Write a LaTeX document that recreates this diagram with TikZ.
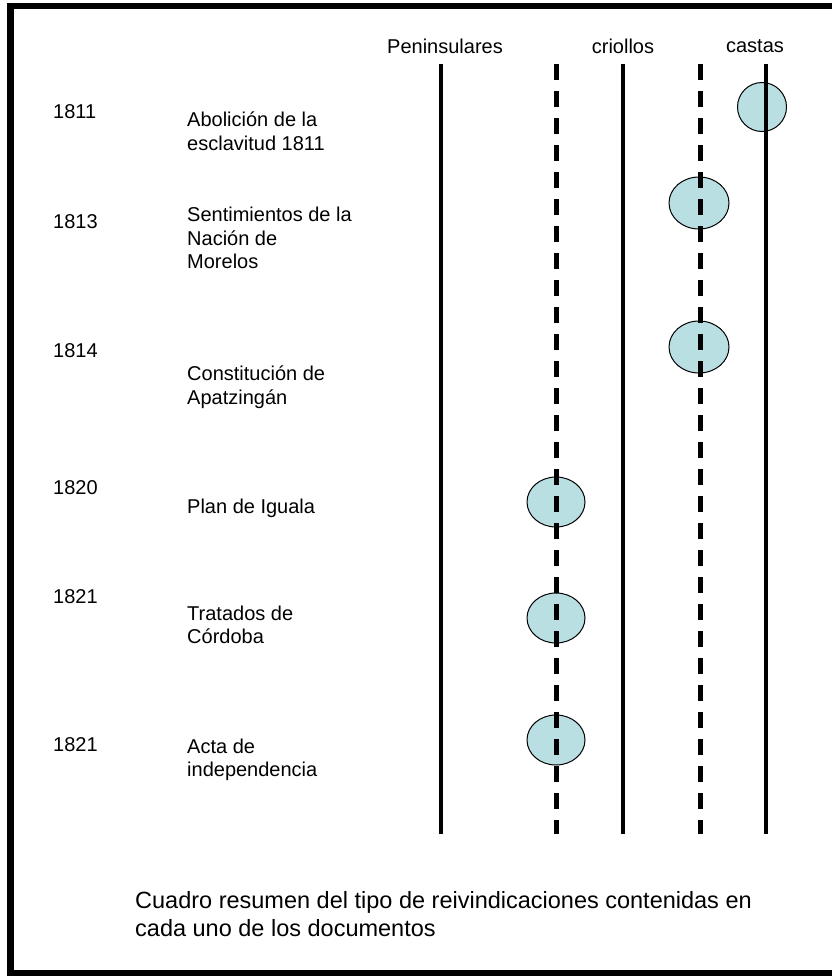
\documentclass[tikz,border=0pt]{standalone}
\usepackage{fontspec}
\setmainfont{Liberation Sans}
\usetikzlibrary{shapes.geometric}
\definecolor{mark}{RGB}{186,223,227}
\tikzset{
  txt/.style={anchor=west, inner sep=0pt, font=\fontsize{20}{23.5}\selectfont, align=left},
  hdr/.style={anchor=center, inner sep=0pt, font=\fontsize{20}{24}\selectfont},
  solidcol/.style={line width=3.5pt},
  dashcol/.style={line width=5pt, dash pattern=on 16pt off 11pt},
  dot/.style={ellipse, draw=black, line width=1pt, fill=mark, inner sep=0pt}
}
\begin{document}
\begin{tikzpicture}[x=1pt,y=-1pt]
\useasboundingbox (0,0) rectangle (832,977);
\fill[white] (0,0) rectangle (832,977);
\draw[line width=6.5pt] (10.5,6) rectangle (845,973);

% headers
\node[hdr] (hp) at (445,46) {Peninsulares};
\node[hdr] (hc) at (623,46) {criollos};
\node[hdr] (hk) at (755,46) {castas};

% ellipses
\node[dot, minimum width=49pt, minimum height=49pt] (e1) at (762,107) {};
\node[dot, minimum width=60pt, minimum height=52pt] (e2) at (699,203) {};
\node[dot, minimum width=60pt, minimum height=52pt] (e3) at (699,347) {};
\node[dot, minimum width=58pt, minimum height=50pt] (e4) at (556,502) {};
\node[dot, minimum width=58pt, minimum height=50pt] (e5) at (556,618) {};
\node[dot, minimum width=58pt, minimum height=50pt] (e6) at (556,740) {};

% column lines
\coordinate (p1) at (441,64);  \coordinate (p2) at (441,834);
\coordinate (d1) at (556,64);  \coordinate (d2) at (556,834);
\coordinate (c1) at (623,64);  \coordinate (c2) at (623,834);
\coordinate (f1) at (700,64);  \coordinate (f2) at (700,834);
\coordinate (k1) at (766,64);  \coordinate (k2) at (766,834);
\draw[solidcol] (p1) -- (p2);
\draw[dashcol] (d1) -- (d2);
\draw[solidcol] (c1) -- (c2);
\draw[dashcol] (f1) -- (f2);
\draw[solidcol] (k1) -- (k2);

% years
\node[txt] (y1) at (53,112) {1811};
\node[txt] (y2) at (53,222) {1813};
\node[txt] (y3) at (53,351) {1814};
\node[txt] (y4) at (53,488) {1820};
\node[txt] (y5) at (53,597) {1821};
\node[txt] (y6) at (53,745) {1821};

% documents
\node[txt] (t1) at (187,131) {Abolición de la\\esclavitud 1811};
\node[txt] (t2) at (187,238) {Sentimientos de la\\Nación de\\Morelos};
\node[txt] (t3) at (187,387) {Constitución de\\Apatzingán};
\node[txt] (t4) at (187,508) {Plan de Iguala};
\node[txt] (t5) at (187,625) {Tratados de\\Córdoba};
\node[txt] (t6) at (187,760) {Acta de\\independencia};

% caption
\node[anchor=west, inner sep=0pt, align=left,
      font=\fontsize{23.5}{28}\selectfont] (cap) at (135,914)
  {Cuadro resumen del tipo de reivindicaciones contenidas en\\cada uno de los documentos};
\end{tikzpicture}
\end{document}
